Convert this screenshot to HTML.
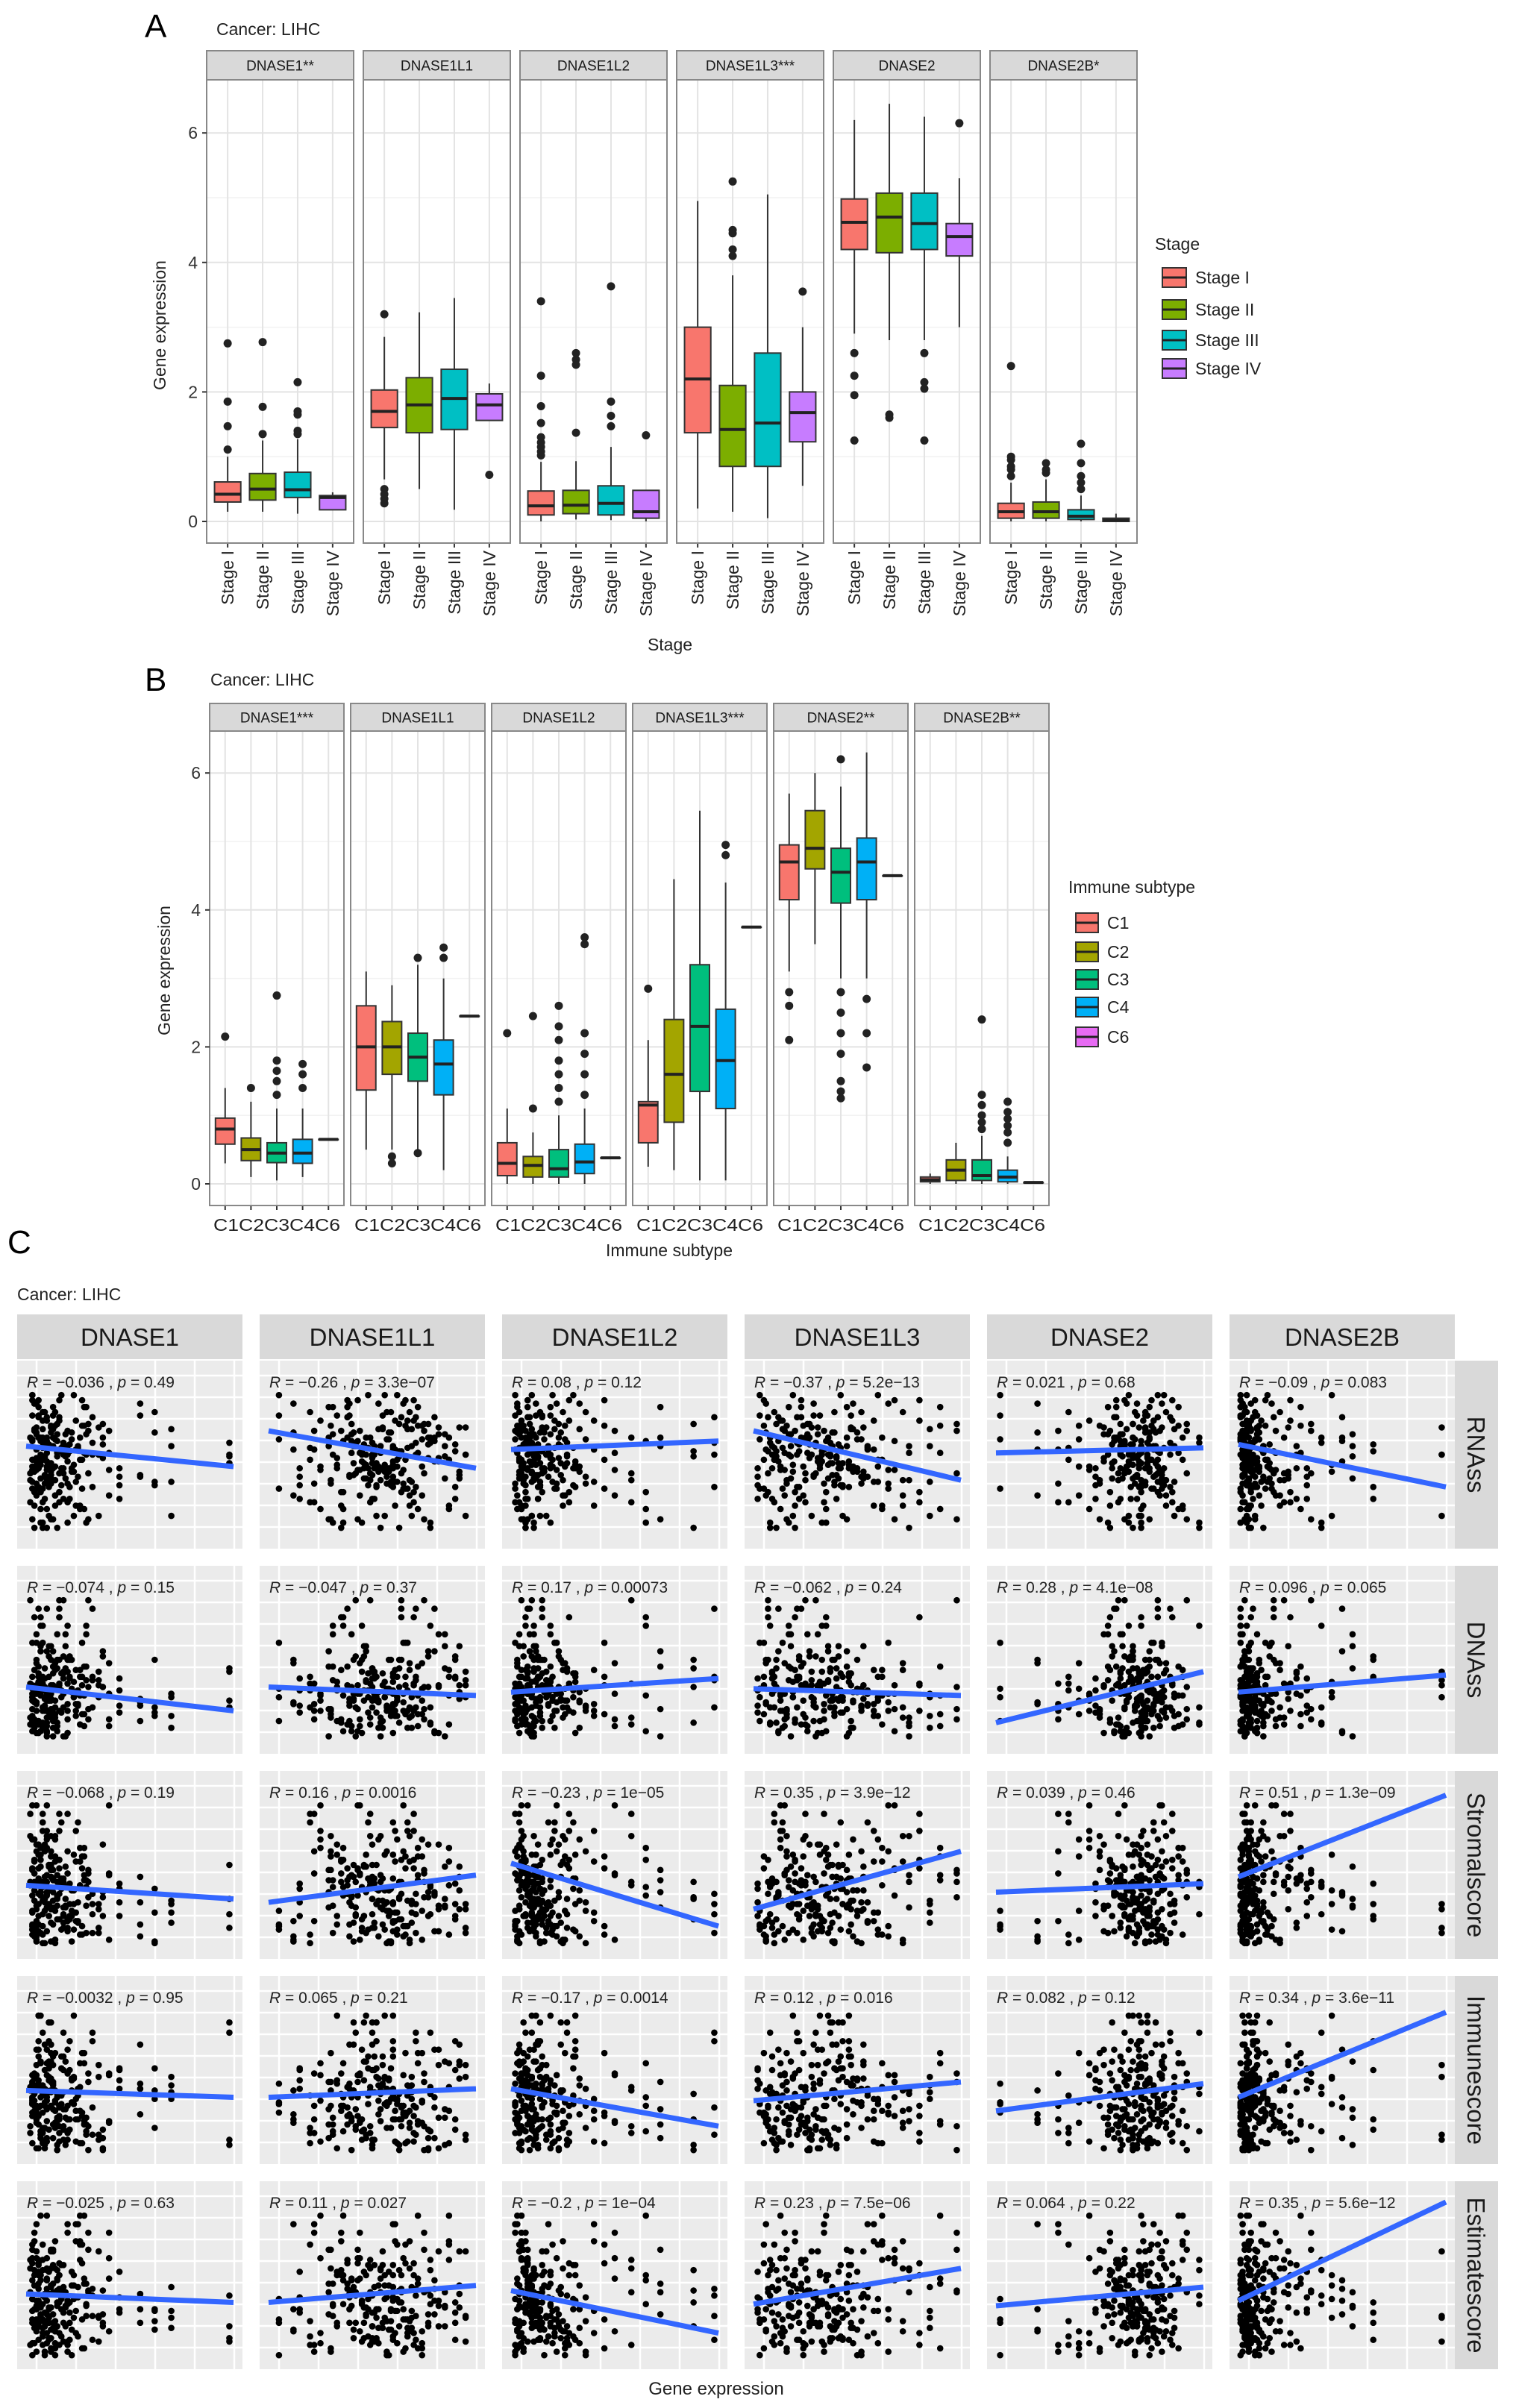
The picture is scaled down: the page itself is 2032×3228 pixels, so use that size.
<!DOCTYPE html>
<html><head><meta charset="utf-8">
<style>
html,body{margin:0;padding:0;background:#fff;}
svg{display:block;font-family:"Liberation Sans",sans-serif;}
</style></head>
<body>
<svg id="fig" width="2032" height="3228" viewBox="0 0 2032 3228" xmlns="http://www.w3.org/2000/svg">
<rect width="2032" height="3228" fill="#fff"/>
<text x="194" y="50" font-size="44">A</text>
<text x="290" y="47" font-size="23" fill="#222">Cancer: LIHC</text>
<text x="194" y="926" font-size="44">B</text>
<text x="282" y="919" font-size="23" fill="#222">Cancer: LIHC</text>
<text x="10" y="1680" font-size="44">C</text>
<text x="23" y="1743" font-size="23" fill="#222">Cancer: LIHC</text>
<g id="gA"></g>
<g id="gB"></g>
<g id="gC"></g>
</svg>
<script>
// ---------- Panel A data ----------
const genesA = ["DNASE1**","DNASE1L1","DNASE1L2","DNASE1L3***","DNASE2","DNASE2B*"];
const stagesA = ["Stage I","Stage II","Stage III","Stage IV"];
const colorsA = ["#F8766D","#7CAE00","#00BFC4","#C77CFF"];
// [low whisker, q1, median, q3, high whisker]
const boxesA = [
 [[0.15,0.30,0.42,0.61,1.0],[0.15,0.33,0.50,0.74,1.25],[0.12,0.37,0.49,0.76,1.27],[0.18,0.18,0.37,0.40,0.45]],
 [[0.65,1.45,1.70,2.03,2.85],[0.50,1.37,1.80,2.22,3.23],[0.18,1.42,1.90,2.35,3.45],[1.56,1.56,1.80,1.97,2.13]],
 [[0.0,0.10,0.24,0.47,0.92],[0.03,0.12,0.25,0.48,0.93],[0.02,0.10,0.28,0.55,1.15],[0.0,0.05,0.15,0.48,0.48]],
 [[0.2,1.37,2.20,3.0,4.95],[0.15,0.85,1.42,2.10,3.8],[0.05,0.85,1.52,2.60,5.05],[0.55,1.23,1.68,2.0,3.0]],
 [[2.9,4.20,4.62,4.98,6.2],[2.8,4.15,4.70,5.07,6.45],[2.8,4.20,4.60,5.07,6.25],[3.0,4.10,4.40,4.60,5.3]],
 [[0.0,0.05,0.15,0.28,0.6],[0.0,0.05,0.15,0.30,0.65],[0.0,0.03,0.08,0.18,0.4],[0.0,0.0,0.02,0.05,0.12]]
];
const outliersA = [
 [[2.75,1.85,1.47,1.11],[2.77,1.77,1.35],[2.15,1.7,1.65,1.4,1.35],[]],
 [[3.2,0.5,0.42,0.35,0.28],[],[],[0.72]],
 [[3.4,2.25,1.78,1.52,1.3,1.22,1.15,1.08,1.02],[2.6,2.5,2.42,1.37],[3.63,1.85,1.63,1.47],[1.33]],
 [[],[5.25,4.5,4.45,4.2,4.1],[],[3.55]],
 [[2.6,2.25,1.95,1.25],[1.6,1.65],[2.6,2.15,2.05,1.25],[6.15]],
 [[2.4,1.0,0.95,0.85,0.8,0.7],[0.9,0.8,0.75],[1.2,0.9,0.7,0.6,0.5],[]]
];
const yTicksA = [0,2,4,6];

// ---------- Panel B data ----------
const genesB = ["DNASE1***","DNASE1L1","DNASE1L2","DNASE1L3***","DNASE2**","DNASE2B**"];
const subtypesB = ["C1","C2","C3","C4","C6"];
const colorsB = ["#F8766D","#A3A500","#00BF7D","#00B0F6","#E76BF3"];
const boxesB = [
 [[0.3,0.58,0.80,0.96,1.4],[0.1,0.34,0.50,0.67,1.2],[0.05,0.31,0.45,0.60,1.1],[0.1,0.30,0.45,0.65,1.1],[0.65,0.65,0.65,0.65,0.65]],
 [[0.5,1.37,2.0,2.6,3.1],[0.5,1.6,2.0,2.37,2.9],[0.5,1.5,1.85,2.2,3.2],[0.2,1.3,1.75,2.1,3.0],[2.45,2.45,2.45,2.45,2.45]],
 [[0.0,0.12,0.30,0.60,1.1],[0.0,0.10,0.27,0.40,0.75],[0.0,0.10,0.22,0.50,1.0],[0.0,0.15,0.32,0.58,1.1],[0.38,0.38,0.38,0.38,0.38]],
 [[0.25,0.60,1.15,1.20,2.1],[0.2,0.9,1.6,2.4,4.45],[0.05,1.35,2.3,3.2,5.45],[0.05,1.1,1.8,2.55,4.4],[3.75,3.75,3.75,3.75,3.75]],
 [[3.1,4.15,4.70,4.95,5.7],[3.5,4.6,4.9,5.45,6.0],[3.0,4.1,4.55,4.9,5.8],[3.0,4.15,4.7,5.05,6.3],[4.5,4.5,4.5,4.5,4.5]],
 [[0.0,0.03,0.06,0.10,0.15],[0.0,0.05,0.20,0.35,0.6],[0.0,0.05,0.12,0.35,0.7],[0.0,0.03,0.10,0.20,0.4],[0.02,0.02,0.02,0.02,0.02]]
];
const outliersB = [
 [[2.15],[1.4],[2.75,1.8,1.65,1.5,1.3],[1.75,1.6,1.4],[]],
 [[],[0.4,0.3],[3.3,0.45],[3.45,3.3],[]],
 [[2.2],[2.45,1.1],[2.6,2.3,2.1,1.8,1.6,1.4,1.2],[3.6,3.5,2.2,1.9,1.6,1.3],[]],
 [[2.85],[],[],[4.95,4.8],[]],
 [[2.8,2.6,2.1],[],[6.2,2.8,2.5,2.2,1.9,1.5,1.35,1.25],[2.7,2.2,1.7],[]],
 [[],[],[2.4,1.3,1.15,1.0,0.9,0.8],[1.2,1.05,0.95,0.85,0.75,0.6],[]]
];
const yTicksB = [0,2,4,6];

// ---------- Panel C data ----------
const genesC = ["DNASE1","DNASE1L1","DNASE1L2","DNASE1L3","DNASE2","DNASE2B"];
const scoresC = ["RNAss","DNAss","StromalScore","ImmuneScore","EstimateScore"];
const scoreLabelsC = ["RNAss","DNAss","Stromalscore","Immunescore","Estimatescore"];
const corrR = [
 ["\u22120.036","\u22120.26","0.08","\u22120.37","0.021","\u22120.09"],
 ["\u22120.074","\u22120.047","0.17","\u22120.062","0.28","0.096"],
 ["\u22120.068","0.16","\u22120.23","0.35","0.039","0.51"],
 ["\u22120.0032","0.065","\u22120.17","0.12","0.082","0.34"],
 ["\u22120.025","0.11","\u22120.2","0.23","0.064","0.35"]
];
const corrP = [
 ["0.49","3.3e\u221207","0.12","5.2e\u221213","0.68","0.083"],
 ["0.15","0.37","0.00073","0.24","4.1e\u221208","0.065"],
 ["0.19","0.0016","1e\u221205","3.9e\u221212","0.46","1.3e\u221209"],
 ["0.95","0.21","0.0014","0.016","0.12","3.6e\u221211"],
 ["0.63","0.027","1e\u221204","7.5e\u221206","0.22","5.6e\u221212"]
];
// fitted line normalized y (0 top, 1 bottom) at left and right ends
const fitLeft = [
 [0.45,0.36,0.47,0.36,0.49,0.44],
 [0.66,0.66,0.69,0.67,0.87,0.69],
 [0.62,0.72,0.49,0.76,0.66,0.57],
 [0.62,0.66,0.61,0.68,0.74,0.66],
 [0.61,0.66,0.59,0.67,0.68,0.65]
];
const fitRight = [
 [0.57,0.58,0.42,0.65,0.46,0.69],
 [0.80,0.71,0.61,0.71,0.57,0.59],
 [0.70,0.56,0.86,0.42,0.61,0.09],
 [0.66,0.61,0.83,0.57,0.58,0.16],
 [0.66,0.56,0.84,0.46,0.57,0.07]
];
const geneX0 = [0.03,0.05,0.08,0.1,0.12,0.04,0.06,0.15,0.18,0.2,0.07,0.09,0.11,0.13,0.22,0.25,0.03,0.05,0.14,0.16,0.28,0.3,0.08,0.1,0.19,0.21,0.35,0.06,0.12,0.17,0.04,0.09,0.24,0.27,0.4,0.02,0.07,0.13,0.15,0.32,0.05,0.11,0.18,0.23,0.55,0.62,0.08,0.14,0.2,0.26,0.03,0.1,0.16,0.29,0.37,0.98,0.06,0.12,0.45,0.7];
const geneX1 = [0.05,0.12,0.2,0.25,0.3,0.35,0.38,0.4,0.42,0.45,0.47,0.5,0.52,0.55,0.58,0.6,0.62,0.65,0.68,0.7,0.72,0.75,0.78,0.8,0.85,0.9,0.95,0.33,0.41,0.48,0.53,0.57,0.61,0.66,0.44,0.49,0.36,0.29,0.63,0.71,0.82,0.46,0.51,0.56,0.39,0.59,0.67,0.74,0.22,0.87,0.43,0.54,0.64,0.31,0.77,0.5,0.6,0.92,0.15,0.69];
const geneX2 = [0.02,0.03,0.04,0.05,0.06,0.07,0.08,0.09,0.1,0.11,0.12,0.13,0.14,0.15,0.16,0.18,0.2,0.22,0.25,0.28,0.03,0.05,0.07,0.09,0.11,0.13,0.17,0.19,0.24,0.3,0.33,0.36,0.4,0.45,0.5,0.58,0.65,0.72,0.88,0.98,0.04,0.06,0.08,0.1,0.12,0.14,0.21,0.26,0.02,0.05,0.08,0.11,0.15,0.19,0.23,0.27,0.31,0.04,0.07,0.1];
const geneX3 = [0.03,0.06,0.1,0.13,0.16,0.2,0.23,0.26,0.3,0.33,0.36,0.4,0.43,0.47,0.5,0.55,0.6,0.65,0.72,0.8,0.9,0.98,0.08,0.12,0.18,0.22,0.28,0.32,0.38,0.42,0.48,0.52,0.58,0.05,0.15,0.25,0.35,0.45,0.11,0.21,0.31,0.41,0.09,0.19,0.29,0.39,0.14,0.24,0.34,0.62,0.68,0.75,0.07,0.17,0.27,0.37,0.46,0.53,0.02,0.85];
const geneX4 = [0.02,0.2,0.35,0.45,0.5,0.55,0.58,0.6,0.62,0.64,0.66,0.68,0.7,0.72,0.74,0.76,0.78,0.8,0.82,0.85,0.88,0.92,0.98,0.57,0.61,0.65,0.69,0.73,0.77,0.81,0.63,0.67,0.71,0.75,0.79,0.59,0.7,0.74,0.66,0.84,0.52,0.56,0.6,0.64,0.68,0.72,0.76,0.4,0.3,0.9,0.62,0.7,0.78,0.54,0.66,0.73,0.69,0.8,0.48,0.86];
const geneX5 = [0.01,0.02,0.03,0.04,0.05,0.06,0.01,0.02,0.03,0.04,0.05,0.07,0.08,0.09,0.1,0.12,0.14,0.16,0.2,0.25,0.3,0.35,0.4,0.5,0.55,0.65,0.98,0.02,0.03,0.04,0.06,0.08,0.11,0.13,0.18,0.22,0.01,0.03,0.05,0.07,0.09,0.15,0.28,0.45,0.02,0.04,0.06,0.1,0.02,0.05,0.08,0.12,0.17,0.01,0.03,0.06,0.09,0.24,0.33,0.04];
const scoreY0 = [0.15,0.2,0.25,0.3,0.33,0.36,0.4,0.42,0.45,0.48,0.5,0.52,0.55,0.58,0.6,0.63,0.66,0.7,0.74,0.78,0.82,0.88,0.93,0.28,0.38,0.44,0.5,0.56,0.62,0.68,0.35,0.41,0.47,0.53,0.59,0.65,0.72,0.22,0.32,0.43,0.54,0.64,0.76,0.86,0.27,0.37,0.46,0.57,0.67,0.8,0.18,0.49,0.61,0.9,0.4,0.51,0.69,0.34,0.58,0.45];
const scoreY1 = [0.3,0.45,0.55,0.6,0.65,0.68,0.7,0.72,0.75,0.78,0.8,0.82,0.85,0.88,0.92,0.95,0.5,0.62,0.66,0.74,0.58,0.69,0.77,0.83,0.4,0.52,0.64,0.71,0.79,0.87,0.2,0.35,0.48,0.57,0.63,0.73,0.81,0.9,0.67,0.76,0.6,0.7,0.84,0.25,0.54,0.66,0.78,0.93,0.42,0.61,0.72,0.86,0.5,0.68,0.74,0.8,0.56,0.65,0.89,0.15];
const scoreY2 = [0.25,0.35,0.42,0.48,0.52,0.56,0.6,0.63,0.66,0.7,0.73,0.76,0.8,0.84,0.88,0.92,0.96,0.3,0.45,0.55,0.62,0.68,0.75,0.82,0.9,0.38,0.5,0.58,0.65,0.72,0.78,0.86,0.94,0.2,0.4,0.53,0.6,0.67,0.74,0.8,0.87,0.44,0.57,0.64,0.71,0.77,0.83,0.91,0.15,0.33,0.47,0.59,0.69,0.79,0.89,0.51,0.61,0.73,0.85,0.95];
const scoreY3 = [0.28,0.38,0.45,0.5,0.54,0.58,0.62,0.65,0.68,0.71,0.74,0.77,0.8,0.83,0.86,0.9,0.94,0.33,0.47,0.56,0.63,0.7,0.76,0.84,0.92,0.4,0.52,0.6,0.66,0.73,0.79,0.88,0.96,0.22,0.42,0.55,0.61,0.67,0.75,0.81,0.87,0.46,0.57,0.64,0.72,0.78,0.85,0.91,0.18,0.35,0.49,0.59,0.69,0.79,0.93,0.53,0.62,0.71,0.82,0.97];
const scoreY4 = [0.2,0.32,0.4,0.46,0.5,0.55,0.59,0.62,0.65,0.69,0.72,0.75,0.78,0.82,0.86,0.9,0.95,0.3,0.43,0.52,0.6,0.67,0.73,0.8,0.88,0.36,0.48,0.57,0.64,0.7,0.77,0.84,0.93,0.25,0.41,0.53,0.6,0.66,0.74,0.8,0.87,0.44,0.56,0.63,0.71,0.76,0.83,0.91,0.15,0.35,0.47,0.58,0.68,0.78,0.89,0.5,0.61,0.7,0.81,0.97];
const geneXs = [geneX0,geneX1,geneX2,geneX3,geneX4,geneX5];
const scoreYs = [scoreY0,scoreY1,scoreY2,scoreY3,scoreY4];
// index offsets used to pair samples between the gene and score arrays
const pairOffsets = [0,17,31,44];

const NS="http://www.w3.org/2000/svg";
function mk(tag, attrs, parent){
  const e=document.createElementNS(NS,tag);
  for(const k in attrs) e.setAttribute(k,attrs[k]);
  parent.appendChild(e); return e;
}
function txt(parent,x,y,s,size,extra){
  const t=mk("text",Object.assign({x:x,y:y,"font-size":size,fill:"#222"},extra||{}),parent);
  t.textContent=s; return t;
}

// ---------- Box plot panels ----------
function boxPanel(g, cfg){
  const {genes,cats,colors,boxes,outliers,ticks,lefts,w,stripTop,stripBot,plotBot,y0,unit,rotate,catLabelY,legendTitle,legX,legTitleY,legYs,legKeyW,legKeyH,xTitle,xTitleX,xTitleY,yTitleX,yTitleY} = cfg;
  const ys = v => y0 - v*unit;
  const nC = cats.length;
  const step = w/(nC+0.2);
  const cx = (i) => step*0.6 + i*step;
  genes.forEach((gene,gi)=>{
    const L=lefts[gi];
    const pg=mk("g",{},g);
    
    
    const strip=mk("rect",{x:L,y:stripTop,width:w,height:stripBot-stripTop,fill:"#D9D9D9",stroke:"#888","stroke-width":2},pg);
    
    
    txt(pg,L+w/2,stripTop+(stripBot-stripTop)/2+7,gene,19,{"text-anchor":"middle",fill:"#1a1a1a"});
    mk("rect",{x:L,y:stripBot,width:w,height:plotBot-stripBot,fill:"#fff"},pg);
    for(let v=1; v<=7; v+=2){ const yy=ys(v); if(yy>stripBot) mk("line",{x1:L,x2:L+w,y1:yy,y2:yy,stroke:"#F2F2F2","stroke-width":1.5},pg); }
    ticks.forEach(v=>{ mk("line",{x1:L,x2:L+w,y1:ys(v),y2:ys(v),stroke:"#E3E3E3","stroke-width":2},pg); });
    cats.forEach((c,ci)=>{ const x=L+cx(ci); mk("line",{x1:x,x2:x,y1:stripBot,y2:plotBot,stroke:"#E3E3E3","stroke-width":2},pg); });
    cats.forEach((c,ci)=>{
      const b=boxes[gi][ci]; const x=L+cx(ci); const bw=step*0.75;
      const bg=mk("g",{},pg);
      
      
      mk("line",{x1:x,x2:x,y1:ys(b[4]),y2:ys(b[0]),stroke:"#333","stroke-width":2},bg);
      mk("rect",{x:x-bw/2,y:ys(b[3]),width:bw,height:Math.max(ys(b[1])-ys(b[3]),0.5),fill:colors[ci],stroke:"#333","stroke-width":2},bg);
      mk("line",{x1:x-bw/2,x2:x+bw/2,y1:ys(b[2]),y2:ys(b[2]),stroke:"#222","stroke-width":4},bg);
      outliers[gi][ci].forEach(v=>{ mk("circle",{cx:x,cy:ys(v),r:5.5,fill:"#222"},bg); });
      mk("line",{x1:x,x2:x,y1:plotBot,y2:plotBot+6,stroke:"#333","stroke-width":2},pg);
      if(rotate){
        txt(pg,0,0,c,23,{transform:`translate(${x+8},${plotBot+10}) rotate(-90)`,"text-anchor":"end"});
      }
    });
    if(!rotate){
      const lab=txt(pg,L+w/2,catLabelY,cats.join(""),23,{"text-anchor":"middle",textLength:w-10,lengthAdjust:"spacingAndGlyphs"});
      
      
    }
    mk("rect",{x:L,y:stripBot,width:w,height:plotBot-stripBot,fill:"none",stroke:"#888","stroke-width":2},pg);
  });
  const L0=lefts[0];
  ticks.forEach(v=>{
    mk("line",{x1:L0-6,x2:L0,y1:ys(v),y2:ys(v),stroke:"#333","stroke-width":2},g);
    const t=txt(g,L0-12,ys(v)+8,String(v),23,{"text-anchor":"end",fill:"#333"});
    
    
  });
  const yt=txt(g,0,0,"Gene expression",23,{transform:`translate(${yTitleX},${yTitleY}) rotate(-90)`,"text-anchor":"middle"});
  
  
  const xt=txt(g,xTitleX,xTitleY,xTitle,23,{"text-anchor":"middle"});
  
  
  const lg=mk("g",{},g);
  
  
  txt(lg,legX,legTitleY,legendTitle,23,{});
  cats.forEach((c,ci)=>{
    const e=mk("g",{},lg);
    
    
    const yc=legYs[ci];
    mk("rect",{x:legX+10,y:yc-legKeyH/2,width:legKeyW,height:legKeyH,fill:colors[ci],stroke:"#333","stroke-width":2},e);
    mk("line",{x1:legX+10,x2:legX+10+legKeyW,y1:yc,y2:yc,stroke:"#222","stroke-width":3},e);
    txt(e,legX+legKeyW+22,yc+8,c,23,{});
  });
}

boxPanel(document.getElementById("gA"),{
  genes:genesA,cats:stagesA,colors:colorsA,boxes:boxesA,outliers:outliersA,ticks:yTicksA,
  lefts:[277,487,697,907,1117,1327],w:197,stripTop:68,stripBot:107,plotBot:728,y0:699,unit:86.8,rotate:true,
  legendTitle:"Stage",legX:1548,legTitleY:335,legYs:[372,415,456,494],legKeyW:32,legKeyH:26,
  xTitle:"Stage",xTitleX:898,xTitleY:872,yTitleX:222,yTitleY:436
});
boxPanel(document.getElementById("gB"),{
  genes:genesB,cats:subtypesB,colors:colorsB,boxes:boxesB,outliers:outliersB,ticks:yTicksB,
  lefts:[281,470,659,848,1037,1226],w:180,stripTop:943,stripBot:980,plotBot:1616,y0:1587,unit:91.8,rotate:false,catLabelY:1650,
  legendTitle:"Immune subtype",legX:1432,legTitleY:1197,legYs:[1237,1276,1313,1350,1390],legKeyW:30,legKeyH:26,
  xTitle:"Immune subtype",xTitleX:897,xTitleY:1684,yTitleX:228,yTitleY:1301
});

// ---------- Panel C ----------
(function(){
  const g=document.getElementById("gC");
  const colL = k => 23 + k*325, W=302;
  const rowT = r => 1824 + r*275, H=252;
  const pad=12;
  genesC.forEach((gname,k)=>{
    const s=mk("rect",{x:colL(k),y:1762,width:W,height:60,fill:"#D9D9D9"},g);
    
    
    txt(g,colL(k)+W/2,1804,gname,33,{"text-anchor":"middle",fill:"#1a1a1a"});
  });
  scoresC.forEach((sc,r)=>{
    const s=mk("rect",{x:1950,y:rowT(r),width:58,height:H,fill:"#D9D9D9"},g);
    
    
    txt(g,0,0,scoreLabelsC[r],33,{transform:`translate(${1967},${rowT(r)+H/2}) rotate(90)`,"text-anchor":"middle",fill:"#1a1a1a"});
    genesC.forEach((gname,k)=>{
      const L=colL(k), T=rowT(r);
      const pg=mk("g",{},g);
      
      
      mk("rect",{x:L,y:T,width:W,height:H,fill:"#EBEBEB"},pg);
      for(let x=L+26; x<L+W; x+=53) mk("line",{x1:x,x2:x,y1:T,y2:T+H,stroke:"#fff","stroke-width":2.5},pg);
      for(let y=T+20; y<T+H; y+=29) mk("line",{x1:L,x2:L+W,y1:y,y2:y,stroke:"#fff","stroke-width":2.5},pg);
      const sx = v => L+pad+v*(W-2*pad);
      const sy = v => T+pad+v*(H-2*pad);
      const xs=geneXs[k], ys=scoreYs[r];
      const n=Math.min(xs.length,ys.length);
      pairOffsets.forEach(off=>{
        for(let i=0;i<n;i++){
          mk("circle",{cx:sx(xs[i]),cy:sy(ys[(i+off+r*7)%n]),r:4.3,fill:"#000"},pg);
        }
      });
      const ln=mk("line",{x1:sx(0),y1:sy(fitLeft[r][k]),x2:sx(1),y2:sy(fitRight[r][k]),stroke:"#3366FF","stroke-width":7},pg);
      
      
      const t=mk("text",{x:L+13,y:T+36,"font-size":21,fill:"#222"},pg);
      
      
      t.innerHTML=`<tspan font-style="italic">R</tspan> = ${corrR[r][k]} , <tspan font-style="italic">p</tspan> = ${corrP[r][k]}`;
    });
  });
  const xt=txt(g,960,3210,"Gene expression",24,{"text-anchor":"middle"});
  
  
})();
</script>
</body></html>
